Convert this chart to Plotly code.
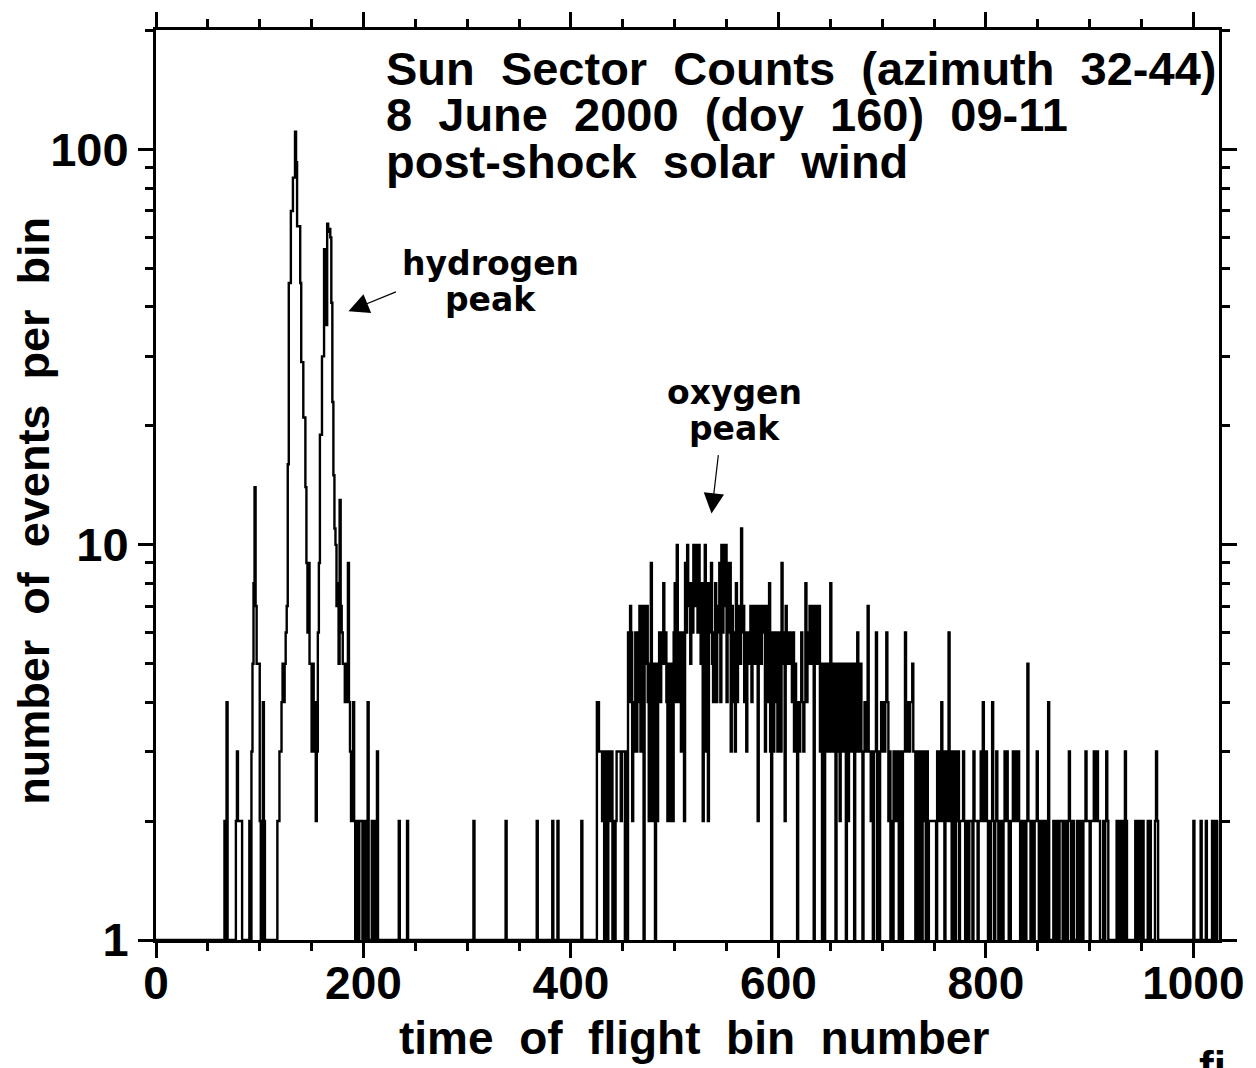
import numpy as np
import plotly.graph_objects as go

# ---------------- data (counts per time-of-flight bin) ----------------
n_bins = 1025

# hydrogen region, bins 60..215
h_first_bin = 60
h_counts = [0, 0, 0, 0, 0, 0, 2, 0, 4, 0,
            0, 0, 0, 0, 0, 0, 0, 2, 3, 2,
            2, 2, 2, 0, 0, 0, 0, 0, 0, 0,
            2, 0, 3, 5, 8, 14, 7, 5, 5, 5,
            2, 0, 0, 4, 2, 0, 0, 0, 0, 0,
            0, 0, 0, 0, 0, 0, 0, 2, 2, 3,
            3, 4, 5, 4, 5, 6, 7, 16, 46, 46,
            70, 70, 85, 85, 111, 93, 64, 64, 64, 46,
            29, 29, 21, 21, 14, 9, 6, 9, 5, 5,
            3, 5, 3, 4, 2, 3, 6, 9, 19, 19,
            30, 30, 56, 56, 36, 65, 62, 63, 60, 41,
            23, 15, 11, 10, 7, 8, 5, 13, 7, 6,
            5, 5, 4, 5, 4, 9, 4, 3, 2, 2,
            4, 2, 0, 2, 0, 0, 2, 2, 2, 0,
            0, 2, 0, 0, 4, 0, 0, 0, 2, 0,
            0, 2, 0, 3, 0, 0]

# isolated counts between the peaks
mid_bins = [234, 242, 306, 337, 367, 382, 387, 410]
mid_counts = [2, 2, 2, 2, 2, 2, 2, 2]

# oxygen region, in blocks of 100 bins
o_a_first = 425
o_a = [4, 4, 3, 3, 3, 2, 3, 0, 3, 2,
       0, 3, 3, 2, 3, 0, 2, 0, 2, 3,
       3, 3, 3, 2, 3, 3, 3, 0, 3, 0,
       6, 4, 7, 6, 2, 3, 4, 6, 3, 6,
       4, 7, 3, 7, 4, 0, 7, 5, 7, 4,
       2, 5, 9, 2, 5, 4, 0, 5, 2, 5,
       6, 4, 5, 6, 8, 5, 6, 4, 2, 5,
       2, 5, 3, 2, 6, 8, 4, 10, 6, 4,
       6, 3, 6, 4, 2, 9, 6, 10, 7, 8,
       5, 8, 6, 10, 7, 10, 8, 6, 10, 8]
o_b_first = 525
o_b = [5, 8, 2, 8, 10, 3, 8, 2, 8, 6,
       9, 5, 4, 6, 8, 4, 7, 6, 9, 4,
       10, 6, 10, 7, 10, 4, 9, 6, 9, 3,
       7, 4, 6, 3, 8, 4, 7, 7, 5, 11,
       6, 7, 4, 6, 3, 5, 6, 5, 7, 4,
       7, 6, 5, 7, 6, 2, 7, 7, 5, 7,
       6, 7, 3, 7, 4, 6, 8, 3, 0, 6,
       3, 6, 4, 6, 3, 6, 4, 3, 9, 5,
       6, 2, 7, 6, 5, 6, 5, 6, 4, 6,
       3, 5, 4, 0, 4, 3, 4, 6, 4, 3]
o_c_first = 625
o_c = [4, 8, 4, 6, 5, 7, 5, 7, 5, 0,
       7, 5, 7, 5, 7, 3, 5, 0, 5, 0,
       5, 3, 5, 3, 5, 8, 3, 5, 3, 5,
       0, 5, 3, 5, 2, 5, 3, 5, 3, 5,
       0, 5, 2, 5, 3, 5, 3, 5, 0, 5,
       3, 6, 5, 3, 5, 3, 0, 3, 4, 4,
       3, 7, 3, 3, 2, 3, 0, 3, 3, 6,
       0, 3, 0, 3, 4, 3, 4, 3, 4, 6,
       4, 2, 3, 0, 2, 0, 3, 2, 3, 3,
       2, 0, 3, 3, 0, 3, 3, 6, 3, 4]
o_d_first = 725
o_d = [4, 3, 4, 4, 5, 3, 3, 0, 3, 2,
       0, 3, 2, 0, 3, 2, 3, 0, 3, 0,
       2, 2, 2, 2, 2, 2, 2, 0, 3, 3,
       2, 3, 4, 2, 3, 0, 3, 2, 3, 6,
       2, 3, 0, 2, 3, 0, 2, 3, 3, 0,
       2, 2, 2, 3, 2, 0, 2, 2, 0, 2,
       2, 2, 0, 3, 2, 2, 2, 0, 2, 2,
       3, 2, 4, 3, 2, 3, 2, 0, 2, 0,
       2, 4, 2, 0, 2, 3, 2, 0, 0, 2,
       2, 0, 2, 3, 2, 3, 2, 0, 0, 2]
o_e_first = 825
o_e = [2, 3, 2, 3, 3, 2, 3, 2, 0, 2,
       0, 2, 2, 0, 2, 5, 2, 2, 0, 2,
       2, 0, 2, 2, 3, 2, 0, 2, 0, 0,
       2, 0, 2, 0, 2, 4, 0, 0, 0, 0,
       2, 0, 0, 2, 0, 0, 2, 2, 2, 0,
       0, 2, 2, 0, 2, 3, 2, 0, 0, 2,
       0, 0, 0, 2, 2, 0, 2, 2, 0, 2,
       2, 3, 2, 2, 2, 0, 2, 2, 2, 3,
       2, 2, 3, 2, 2, 0, 0, 0, 2, 0,
       2, 3, 2, 0, 0, 0, 0, 0, 0, 0]
o_f_first = 925
o_f = [0, 2, 0, 0, 2, 2, 0, 2, 0, 3,
       2, 0, 0, 0, 0, 0, 0, 0, 0, 2,
       2, 0, 2, 0, 0, 2, 2, 0, 0, 0,
       0, 2, 0, 2, 0, 0, 0, 0, 2, 3,
       2, 0, 0, 0, 0, 0, 0, 0, 0, 0,
       0, 0, 0, 0, 0, 0, 0, 0, 0, 0,
       0, 0, 0, 0, 0, 0, 0, 0, 0, 0,
       0, 0, 0, 0, 0, 2, 0, 0, 0, 0,
       0, 0, 2, 0, 0, 0, 0, 2, 0, 0,
       0, 0, 0, 2, 0, 2, 2, 0, 2, 2]

x_tick_vals = [0, 200, 400, 600, 800, 1000]
y_tick_vals = [1, 10, 100]
y_tick_text = ["1", "10", "100"]
y_minor_vals = [2, 3, 4, 5, 6, 7, 8, 9, 20, 30, 40, 50, 60, 70, 80, 90, 200]

title_lines = ["Sun  Sector  Counts  (azimuth  32-44)",
               "8  June  2000  (doy  160)  09-11",
               "post-shock  solar  wind"]

# ---------------- assemble the histogram ----------------
counts = np.zeros(n_bins)


def place(start, vals):
    for i, v in enumerate(vals):
        if start + i < n_bins:
            counts[start + i] = v


place(h_first_bin, h_counts)
for b, c in zip(mid_bins, mid_counts):
    counts[b] = c
place(o_a_first, o_a)
place(o_b_first, o_b)
place(o_c_first, o_c)
place(o_d_first, o_d)
place(o_e_first, o_e)
place(o_f_first, o_f)

bins = np.arange(n_bins)
y_plot = np.where(counts > 0, counts, 1)

fig = go.Figure()
fig.add_trace(go.Scatter(
    x=bins, y=y_plot, mode="lines",
    line=dict(color="black", width=2.4, shape="hv"),
    showlegend=False, hoverinfo="skip"))

bold_font = "Liberation Sans, Arial, Helvetica, sans-serif"
label_font = "DejaVu Sans, Verdana, sans-serif"
tick_font = dict(family=bold_font, size=46, color="black", weight="bold")

fig.update_layout(
    width=1256, height=1068,
    margin=dict(l=156, r=31, t=28, b=128),
    paper_bgcolor="white", plot_bgcolor="white",
    xaxis=dict(range=[0, 1024.7], showline=True, linewidth=3, linecolor="black",
               mirror="ticks", ticks="outside", ticklen=15, tickwidth=3, tickcolor="black",
               tickvals=x_tick_vals, tickfont=tick_font, ticklabelstandoff=-14,
               ticklabeloverflow="allow",
               minor=dict(dtick=50, tick0=0, ticks="outside", ticklen=8, tickwidth=2.5,
                          tickcolor="black", showgrid=False),
               showgrid=False, zeroline=False),
    yaxis=dict(type="log", range=[0, 2.303], showline=True, linewidth=3, linecolor="black",
               mirror="ticks", ticks="outside", ticklen=15, tickwidth=3, tickcolor="black",
               tickvals=y_tick_vals, ticktext=y_tick_text,
               tickfont=dict(tick_font, size=47), ticklabelstandoff=0,
               ticklabeloverflow="allow",
               minor=dict(tickvals=y_minor_vals, ticks="outside", ticklen=8, tickwidth=2.5,
                          tickcolor="black", showgrid=False),
               showgrid=False, zeroline=False),
)

ann = []
# axis titles
ann.append(dict(text="time  of  flight  bin  number", xref="paper", yref="paper",
                x=0.506, y=-0.108, xanchor="center", yanchor="middle", showarrow=False,
                font=dict(family=bold_font, size=46, color="black", weight="bold")))
ann.append(dict(text="number  of  events  per  bin", xref="paper", yref="paper",
                x=-0.115, y=0.4715, xanchor="center", yanchor="middle", showarrow=False,
                textangle=-90,
                font=dict(family=bold_font, size=45, color="black", weight="bold")))
# title block
for i, (line, ypix) in enumerate(zip(title_lines, [67, 113, 160])):
    ann.append(dict(text=line, xref="paper", yref="paper",
                    x=(385 - 156) / 1069, y=(940 - ypix) / 912,
                    xanchor="left", yanchor="middle", showarrow=False,
                    font=dict(family=bold_font, size=47, color="black", weight="bold")))
# peak labels
for txt, xc, yc in [("hydrogen", 492, 262), ("peak", 492, 298),
                    ("oxygen", 738, 391), ("peak", 738, 427)]:
    ann.append(dict(text=txt, xref="paper", yref="paper",
                    x=(xc - 156) / 1069, y=(940 - yc) / 912,
                    xanchor="center", yanchor="middle", showarrow=False,
                    font=dict(family=label_font, size=33, color="black", weight="bold")))
# cut-off caption fragment at the bottom-right corner of the page
ann.append(dict(text="fi", xref="paper", yref="paper",
                x=(1203 - 156) / 1069, y=(940 - 1040) / 912,
                xanchor="left", yanchor="top", showarrow=False,
                font=dict(family=bold_font, size=44, color="black", weight="bold")))
# arrows
ann.append(dict(text="", x=185.5, y=np.log10(39), xref="x", yref="y",
                ax=49, ay=-20, axref="pixel", ayref="pixel",
                showarrow=True, arrowhead=2, arrowsize=3.4, arrowwidth=1.2, arrowcolor="black"))
ann.append(dict(text="", x=535.5, y=np.log10(12), xref="x", yref="y",
                ax=7, ay=-60, axref="pixel", ayref="pixel",
                showarrow=True, arrowhead=2, arrowsize=3.4, arrowwidth=1.2, arrowcolor="black"))
fig.update_layout(annotations=ann)

fig.write_html("out.html")
